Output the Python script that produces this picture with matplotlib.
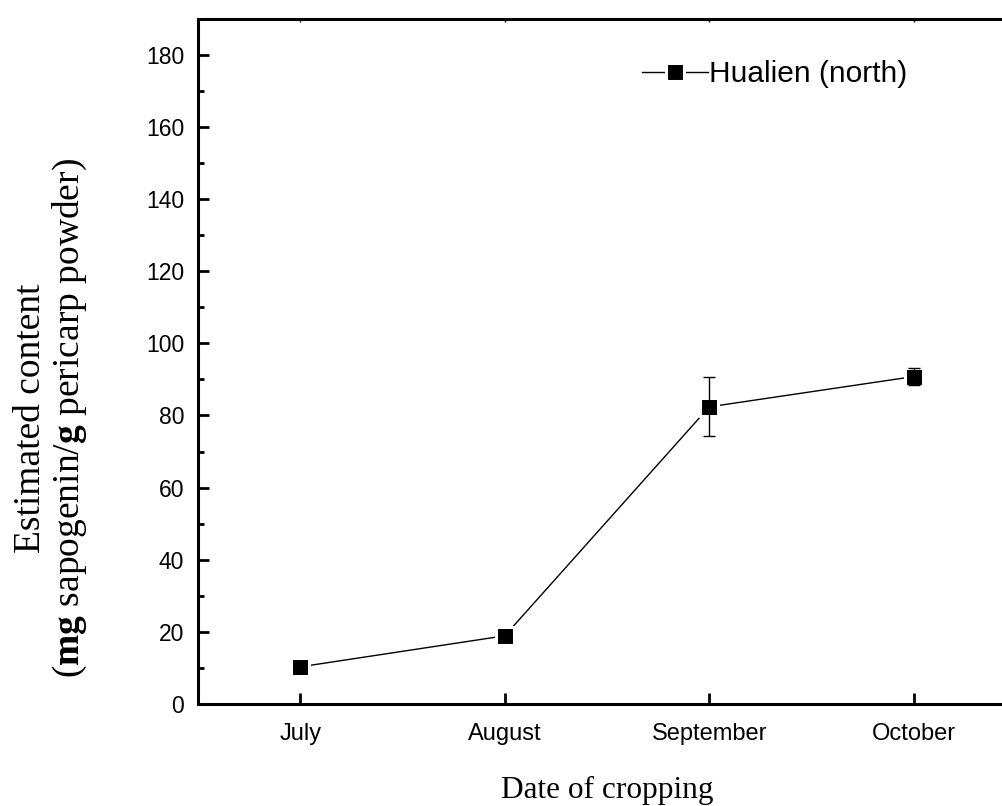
import matplotlib.pyplot as plt
from matplotlib.ticker import MultipleLocator

# saponin content by month of cropping
months = ['July', 'August', 'September', 'October']
content = [10.3, 18.9, 82.4, 90.8]
content_err = [0.6, 0.8, 8.2, 2.3]
series_name = 'Hualien (north)'

plt.rcParams['font.family'] = 'Liberation Sans'
plt.rcParams['mathtext.fontset'] = 'custom'
plt.rcParams['mathtext.rm'] = 'Liberation Serif'
plt.rcParams['mathtext.bf'] = 'Liberation Serif:bold'

fig = plt.figure(figsize=(10.03, 8.06), dpi=100)
ax = fig.add_axes([0.1974, 0.1266, 0.8156, 0.85])

x = list(range(len(months)))
# white marker edge leaves a small gap where the line meets each square
ax.plot(x, content, color='black', lw=1.0, marker='s', markersize=12.5,
        markerfacecolor='black', markeredgecolor='white',
        markeredgewidth=2.2, label=series_name, zorder=2)
ax.errorbar(x, content, yerr=content_err, fmt='none', ecolor='black',
            elinewidth=1.0, capsize=4.3, capthick=1.0, zorder=3)

ax.set_xlim(-0.5, 3.5)
ax.set_ylim(0, 190)
ax.set_xticks(x)
ax.set_xticklabels(months)
ax.yaxis.set_major_locator(MultipleLocator(20))
ax.yaxis.set_minor_locator(MultipleLocator(10))

for s in ax.spines.values():
    s.set_linewidth(2.2)
ax.tick_params(axis='y', which='major', direction='in', length=8,
               width=2.0, labelsize=16.5, pad=10)
ax.tick_params(axis='y', which='minor', direction='in', length=4, width=2.0)
ax.tick_params(axis='x', which='major', direction='in', length=8,
               width=2.0, labelsize=17, pad=14)
ax.tick_params(axis='x', which='major', top=True)
for t in ax.xaxis.get_major_ticks():
    t.tick2line.set_markersize(2)
    t.tick2line.set_markeredgewidth(1.0)

ax.set_xlabel('Date of cropping', family='Liberation Serif', fontsize=22.5,
              labelpad=22)
fig.text(0.051, 0.481,
         'Estimated content\n'
         r'($\mathbf{mg}$ sapogenin/$\mathbf{g}$ pericarp powder)',
         family='Liberation Serif', fontsize=27, rotation=90,
         ha='center', va='center', multialignment='center', linespacing=1.1)

leg = ax.legend(loc='center left', bbox_to_anchor=(0.543, 0.919),
                frameon=False, fontsize=21.5, handlelength=2.2,
                handletextpad=0.05, borderaxespad=0, borderpad=0)

fig.savefig('out.png', dpi=100)
